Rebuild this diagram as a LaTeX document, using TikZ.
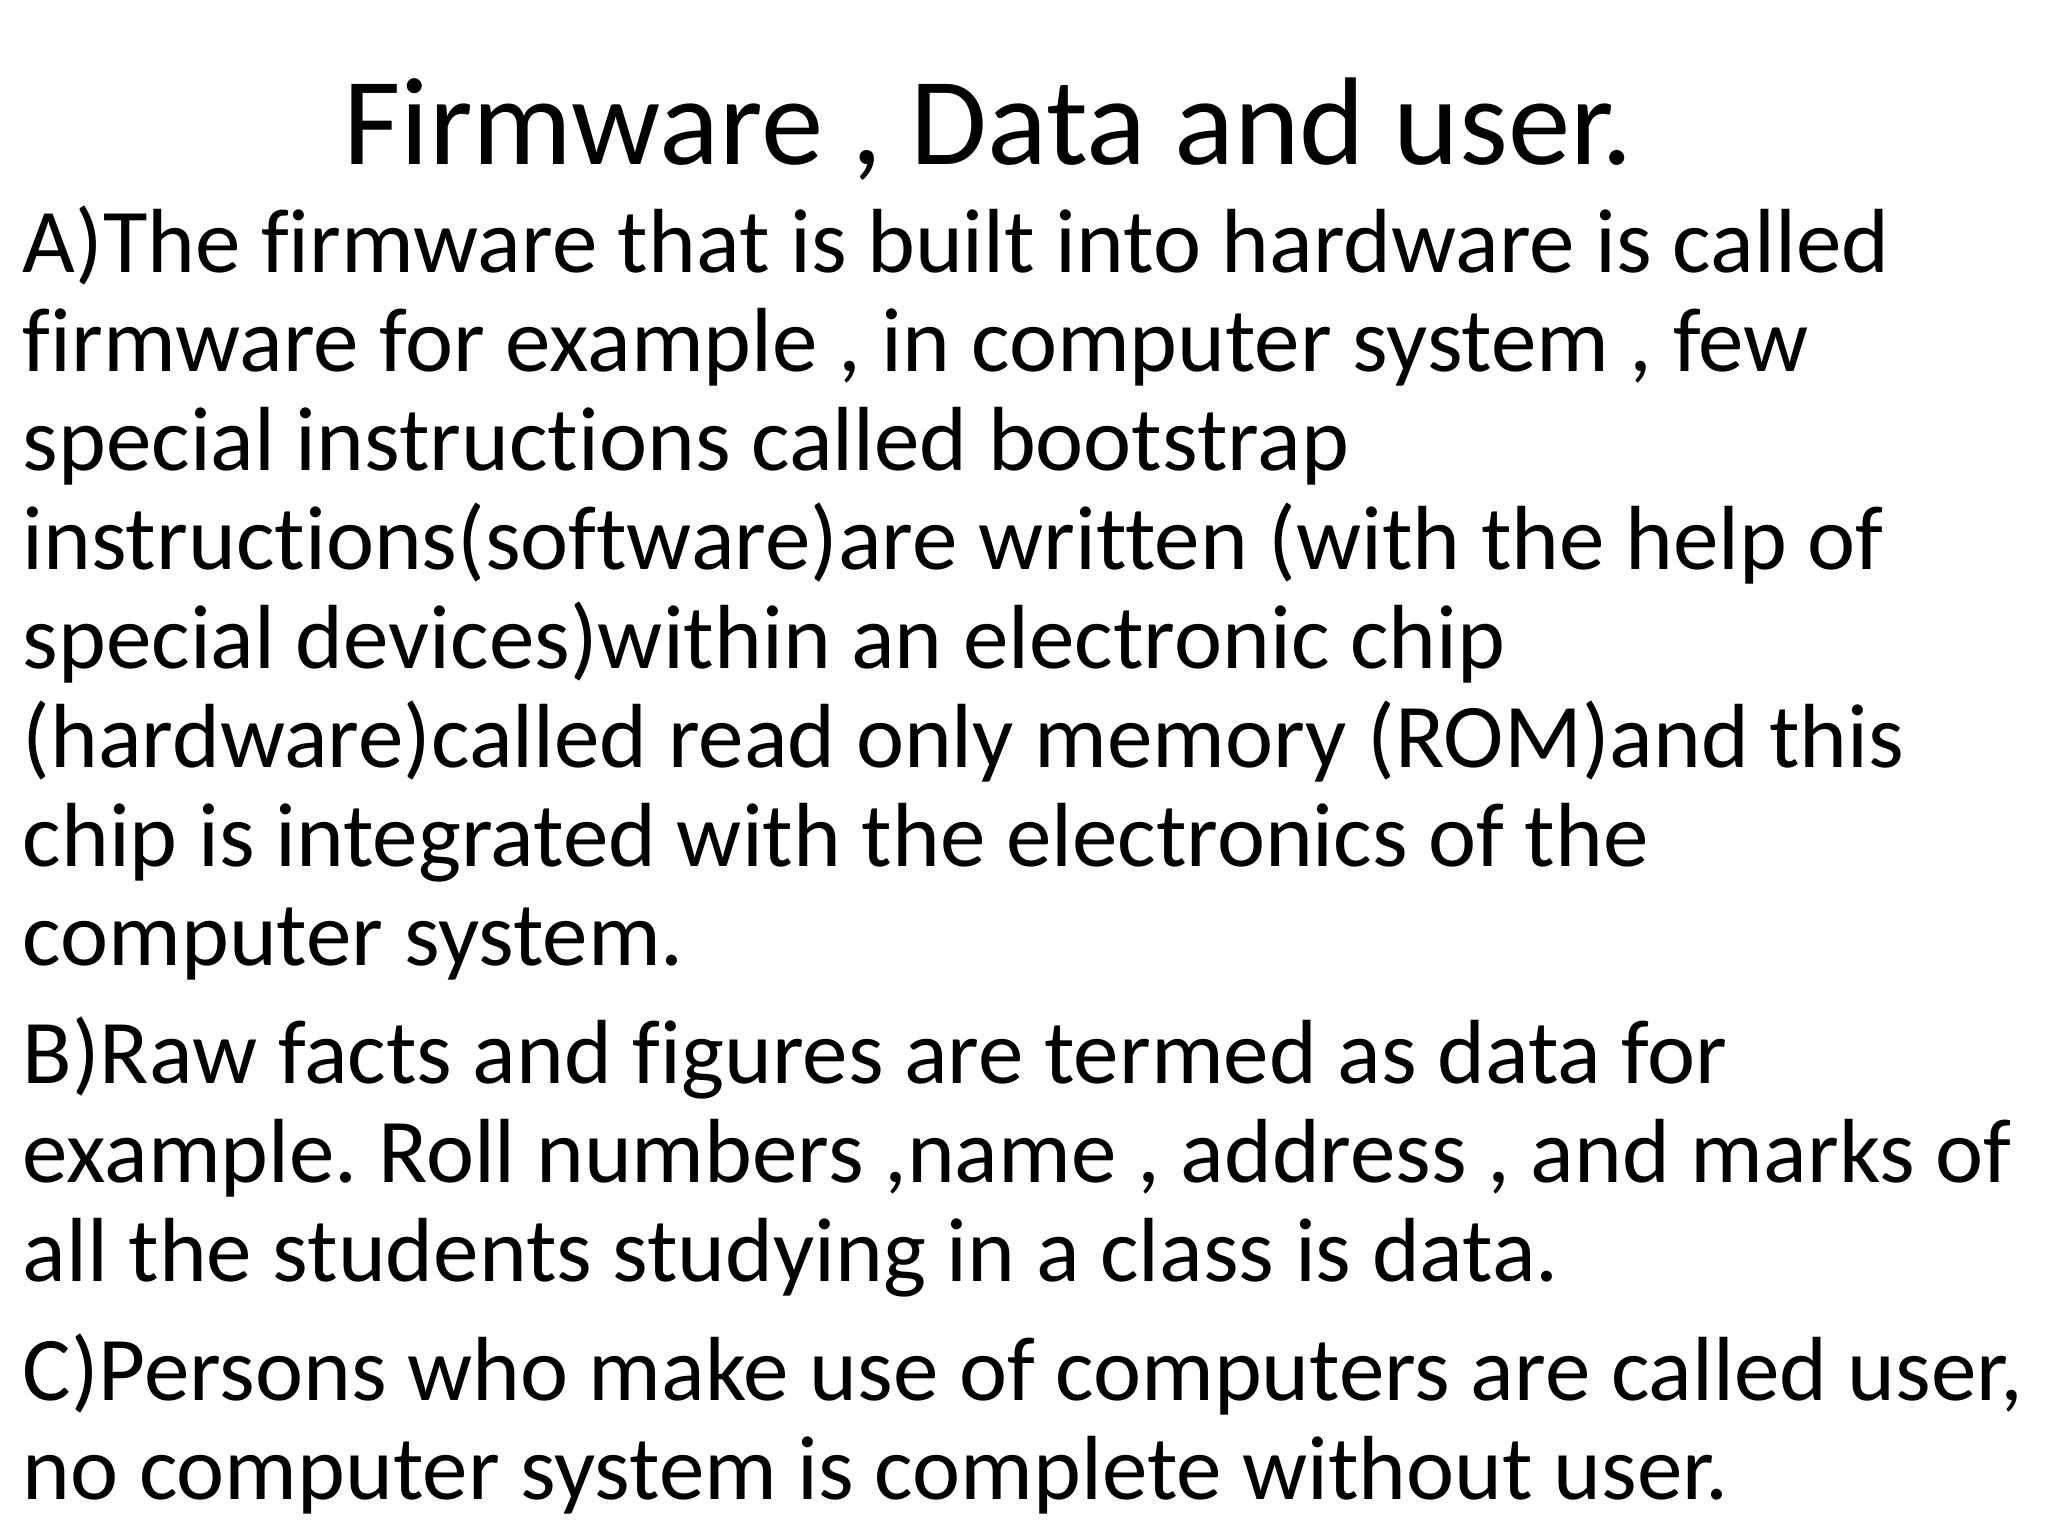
\documentclass[tikz,border=0pt]{standalone}
\usepackage{fontspec}
\setmainfont[Ligatures=NoCommon]{Carlito}
\frenchspacing
\begin{document}
\begin{tikzpicture}[x=0.01cm,y=-0.01cm,
  ln/.style={anchor=base west,inner sep=0pt,font=\fontsize{25.9}{28}\selectfont}]
\useasboundingbox (0,0) rectangle (2048,1536);
\node[anchor=base,inner sep=0pt,font=\fontsize{35.5}{38}\selectfont] (title) at (988,164) {Firmware , Data and user.};
\foreach \t/\y [count=\i] in {
 {A)The firmware that is built into hardware is called}/272,
 {firmware for example , in computer system , few}/371,
 {special instructions called bootstrap}/470,
 {instructions(software)are written (with the help of}/569,
 {special devices)within an electronic chip}/668,
 {(hardware)called read only memory (ROM)and this}/767,
 {chip is integrated with the electronics of the}/866,
 {computer system.}/965,
 {B)Raw facts and figures are termed as data for}/1083,
 {example. Roll numbers ,name , address , and marks of}/1182,
 {all the students studying in a class is data.}/1281,
 {C)Persons who make use of computers are called user,}/1400,
 {no computer system is complete without user.}/1499}
 \node[ln] (l\i) at (22,\y) {\t};
\end{tikzpicture}
\end{document}
